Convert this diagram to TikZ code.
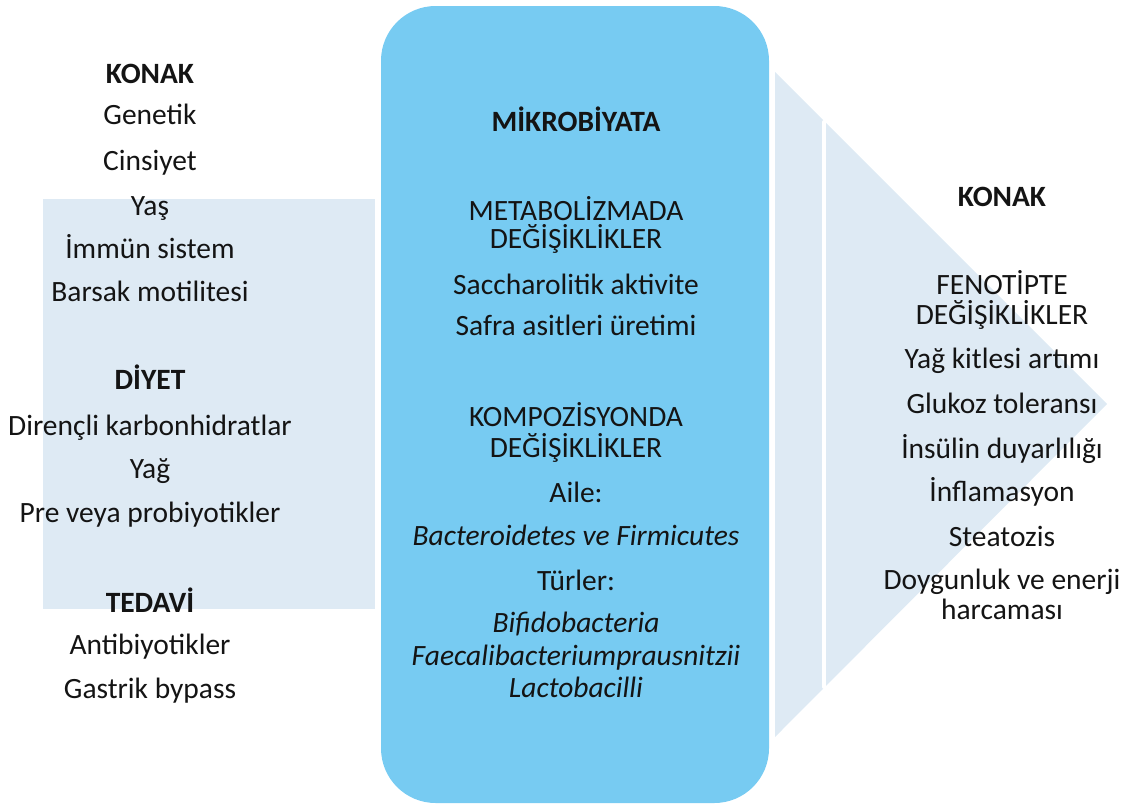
\documentclass[tikz,border=0pt]{standalone}
\usepackage{fontspec}
\setmainfont{Carlito}
\definecolor{panelblue}{HTML}{DEEAF4}
\definecolor{mikroblue}{HTML}{77CBF2}
\definecolor{inkblack}{HTML}{141414}
\begin{document}
\begin{tikzpicture}[x=0.75pt,y=-0.75pt,
	every node/.style={anchor=base,inner sep=0pt,text=inkblack,font=\fontsize{22.1}{22}\selectfont},
	head/.style={font=\fontsize{22.1}{22}\selectfont\bfseries},
	species/.style={font=\fontsize{22.1}{22}\selectfont\itshape}]
\useasboundingbox (0,0) rectangle (1124,807);
\fill[panelblue] (43,199) rectangle (375,609);
\fill[panelblue] (775,72) -- (1107,404) -- (775,737) -- cycle;
\draw[white,line width=3pt,line cap=round] (824,122) -- (824,687);
\fill[mikroblue,rounded corners=41pt] (381,6) rectangle (769,803);
% left column
\node[head] (konak) at (150,83) {KONAK};
\foreach \y/\t [count=\i] in {124/Genetik,170/Cinsiyet,215/Yaş,258/İmmün sistem,301/Barsak motilitesi}
	\node (konak\i) at (150,\y) {\t};
\node[head] (diyet) at (150,389) {DİYET};
\foreach \y/\t [count=\i] in {435/Dirençli karbonhidratlar,478/Yağ,522/Pre veya probiyotikler}
	\node (diyet\i) at (150,\y) {\t};
\node[head] (tedavi) at (150,612) {TEDAVİ};
\foreach \y/\t [count=\i] in {654/Antibiyotikler,698/Gastrik bypass}
	\node (tedavi\i) at (150,\y) {\t};
% middle column
\node[head] (mikro) at (576,131) {MİKROBİYATA};
\foreach \y/\t [count=\i] in {220/METABOLİZMADA,248/DEĞİŞİKLİKLER,294/Saccharolitik aktivite,335/Safra asitleri üretimi,426/KOMPOZİSYONDA,457/DEĞİŞİKLİKLER,502/Aile:,590/Türler:}
	\node (mikro\i) at (576,\y) {\t};
\foreach \y/\t [count=\i] in {545/Bacteroidetes ve Firmicutes,632/Bifidobacteria,665/Faecalibacteriumprausnitzii,697/Lactobacilli}
	\node[species] (tur\i) at (576,\y) {\t};
% right column
\node[head] (sonuc) at (1002,206) {KONAK};
\foreach \y/\t [count=\i] in {294/FENOTİPTE,324/DEĞİŞİKLİKLER,368/Yağ kitlesi artımı,413/Glukoz toleransı,458/İnsülin duyarlılığı,501/İnflamasyon,546/Steatozis,589/Doygunluk ve enerji,619/harcaması}
	\node (sonuc\i) at (1002,\y) {\t};
\end{tikzpicture}
\end{document}
